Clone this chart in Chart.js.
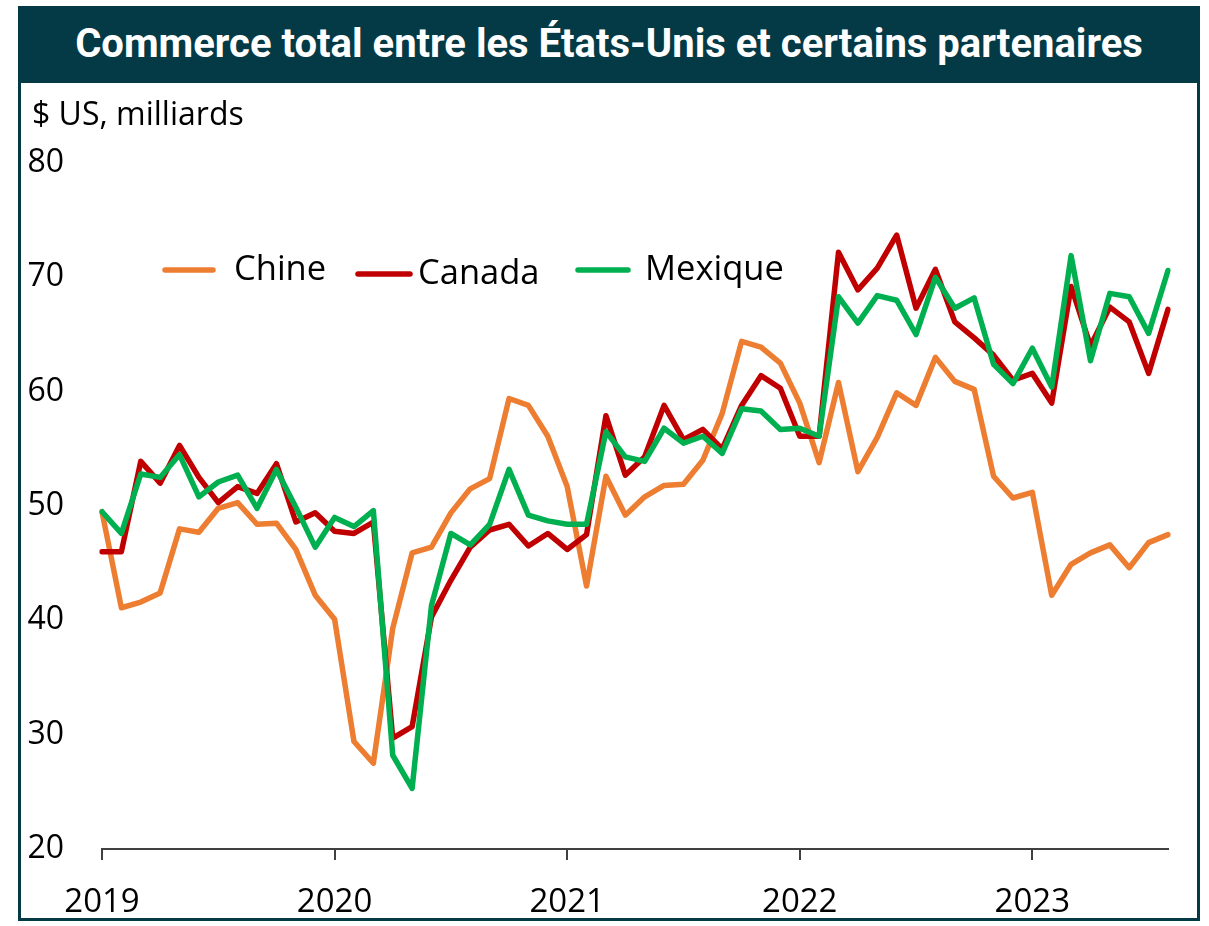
<!DOCTYPE html>
<html lang="fr">
<head>
<meta charset="utf-8">
<title>Commerce total entre les États-Unis et certains partenaires</title>
<script src="https://cdn.jsdelivr.net/npm/chart.js@4.4.1/dist/chart.umd.min.js"></script>
<style>
  html, body { margin: 0; padding: 0; background: #ffffff; }
  body { width: 1209px; height: 926px; position: relative; overflow: hidden; font-family: "Open Sans", "Noto Sans", sans-serif; }
  #frame { position: absolute; left: 18px; top: 6px; width: 1182px; height: 915px; background: #033a46; }
  #title { position: absolute; left: 0; top: 0; width: 100%; height: 75px; text-align: center; color: #ffffff;
           font-family: Roboto, "Liberation Sans", sans-serif; font-weight: 700; font-size: 40px; line-height: 75px; }
  #panel { position: absolute; left: 3px; top: 77px; width: 1176px; height: 835px; background: #ffffff; }
  #unit { position: absolute; left: 11px; top: 10px; font-size: 32px; line-height: 40px; color: #000; }
  #wrap { position: absolute; left: 0; top: 0; width: 1176px; height: 835px; }
</style>
</head>
<body>
<div id="frame">
  <div id="title">Commerce total entre les États-Unis et certains partenaires</div>
  <div id="panel">
    <div id="wrap"><canvas id="chart"></canvas></div>
    <div id="unit">$ US, milliards</div>
  </div>
</div>
<script>
// Months, January 2019 to August 2023
const months = [
  "2019-01","2019-02","2019-03","2019-04","2019-05","2019-06","2019-07","2019-08","2019-09","2019-10","2019-11","2019-12",
  "2020-01","2020-02","2020-03","2020-04","2020-05","2020-06","2020-07","2020-08","2020-09","2020-10","2020-11","2020-12",
  "2021-01","2021-02","2021-03","2021-04","2021-05","2021-06","2021-07","2021-08","2021-09","2021-10","2021-11","2021-12",
  "2022-01","2022-02","2022-03","2022-04","2022-05","2022-06","2022-07","2022-08","2022-09","2022-10","2022-11","2022-12",
  "2023-01","2023-02","2023-03","2023-04","2023-05","2023-06","2023-07","2023-08"
];

// Total trade, billions of US dollars
const chine = [
  49.5, 41.1, 41.6, 42.4, 48.0, 47.7, 49.8, 50.3, 48.4, 48.5, 46.2, 42.2,
  40.1, 29.4, 27.5, 39.3, 45.9, 46.4, 49.4, 51.5, 52.4, 59.4, 58.8, 56.1,
  51.7, 43.0, 52.6, 49.2, 50.8, 51.8, 51.9, 54.0, 58.1, 64.4, 63.9, 62.5,
  59.0, 53.8, 60.8, 53.0, 56.0, 59.9, 58.8, 63.0, 60.9, 60.2, 52.6, 50.7,
  51.2, 42.2, 44.9, 45.9, 46.6, 44.6, 46.8, 47.5
];
const canada = [
  46.0, 46.0, 53.9, 52.0, 55.3, 52.5, 50.3, 51.7, 51.1, 53.7, 48.6, 49.4,
  47.8, 47.6, 48.6, 29.7, 30.7, 40.3, 43.5, 46.4, 47.9, 48.4, 46.5, 47.6,
  46.2, 47.5, 57.9, 52.7, 54.3, 58.8, 55.8, 56.7, 55.0, 58.8, 61.4, 60.3,
  56.1, 56.1, 72.2, 68.9, 70.8, 73.7, 67.3, 70.7, 66.1, 64.7, 63.2, 61.0,
  61.6, 59.0, 69.2, 64.0, 67.4, 66.1, 61.6, 67.2
];
const mexique = [
  49.5, 47.6, 52.8, 52.5, 54.5, 50.8, 52.1, 52.7, 49.8, 53.2, 49.9, 46.4,
  49.0, 48.2, 49.6, 28.2, 25.3, 41.3, 47.6, 46.6, 48.4, 53.2, 49.2, 48.7,
  48.4, 48.4, 56.5, 54.3, 53.9, 56.8, 55.5, 56.1, 54.6, 58.5, 58.3, 56.7,
  56.8, 56.1, 68.3, 66.0, 68.4, 68.0, 65.0, 70.0, 67.3, 68.2, 62.4, 60.7,
  63.8, 60.4, 71.9, 62.7, 68.6, 68.3, 65.1, 70.6
];

const yTicks = [20, 30, 40, 50, 60, 70, 80];
const seriesNames = ["Chine", "Canada", "Mexique"];
const seriesColors = ["#ED7D31", "#C00000", "#00B050"];

const FONT = '"Open Sans", "Noto Sans", sans-serif';
const TICK_SIZE = 33;
const LEGEND_SIZE = 34.5;

// Legend drawn inside the plot area, one entry per dataset
const legendSpots = [
  { x0: 144, x1: 192, y: 187, tx: 213 },
  { x0: 337, x1: 389, y: 191, tx: 397 },
  { x0: 557, x1: 607, y: 187, tx: 624 }
];
const inlineLegend = {
  id: 'inlineLegend',
  afterDraw(chart) {
    const ctx = chart.ctx;
    ctx.save();
    chart.data.datasets.forEach((ds, i) => {
      const s = legendSpots[i];
      ctx.strokeStyle = ds.borderColor;
      ctx.lineWidth = 5.5;
      ctx.lineCap = 'round';
      ctx.beginPath();
      ctx.moveTo(s.x0, s.y);
      ctx.lineTo(s.x1, s.y);
      ctx.stroke();
      ctx.fillStyle = '#000';
      ctx.font = LEGEND_SIZE + 'px ' + FONT;
      ctx.textBaseline = 'middle';
      ctx.textAlign = 'left';
      ctx.fillText(ds.label, s.tx, s.y);
    });
    ctx.restore();
  }
};

const values = [chine, canada, mexique];
const datasets = values.map((v, i) => ({
  label: seriesNames[i],
  data: v,
  borderColor: seriesColors[i],
  backgroundColor: seriesColors[i],
  borderWidth: 5.5,
  pointRadius: 0,
  tension: 0,
  borderJoinStyle: 'round',
  borderCapStyle: 'round',
  order: 3 - i
}));

new Chart(document.getElementById('chart'), {
  type: 'line',
  data: { labels: months, datasets },
  options: {
    responsive: true,
    maintainAspectRatio: false,
    animation: false,
    layout: { padding: { left: 0, right: 29, top: 80, bottom: 0 } },
    plugins: { legend: { display: false }, tooltip: { enabled: false }, title: { display: false } },
    scales: {
      x: {
        type: 'category',
        offset: false,
        afterFit(scale) { scale.height = 69; },
        grid: {
          drawOnChartArea: false,
          drawTicks: true,
          tickLength: 11,
          lineWidth: 2,
          color: (c) => (c.index % 12 === 0 ? '#404040' : 'rgba(0,0,0,0)')
        },
        border: { display: true, color: '#404040', width: 2 },
        ticks: {
          autoSkip: false,
          maxRotation: 0,
          minRotation: 0,
          padding: 23,
          color: '#000',
          font: { family: FONT, size: TICK_SIZE },
          callback: (val, idx) => (months[idx].endsWith('-01') ? months[idx].slice(0, 4) : '')
        }
      },
      y: {
        min: 20,
        max: 80,
        afterFit(scale) { scale.width = 81; },
        afterBuildTicks(scale) { scale.ticks = yTicks.map(v => ({ value: v })); },
        grid: { display: false, drawTicks: false },
        border: { display: false },
        ticks: {
          padding: 38,
          color: '#000',
          font: { family: FONT, size: 32 }
        }
      }
    }
  },
  plugins: [inlineLegend]
});
</script>
</body>
</html>
